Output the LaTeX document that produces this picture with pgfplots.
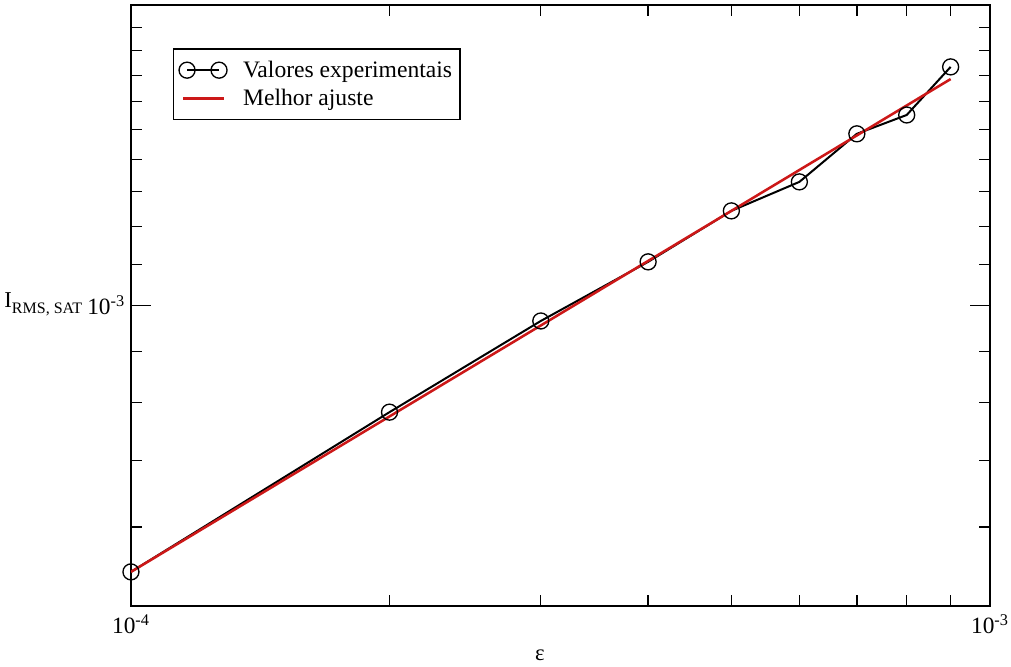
\documentclass[border=0pt]{standalone}
\usepackage{fontspec}
\setmainfont{Liberation Serif}
\usepackage{pgfplots}
\pgfplotsset{compat=1.18}
\definecolor{fitred}{RGB}{204,24,24}
\pgfplotsset{
  legmark/.style={legend image code/.code={\draw[mark repeat=1,##1] plot coordinates {(3pt,0pt) (27pt,0pt)};}},
  legline/.style={legend image code/.code={\draw[##1] (0pt,0pt) -- (31pt,0pt);}},
}
\begin{document}
\begin{tikzpicture}
\useasboundingbox (-98.25pt,-45.75pt) rectangle (660pt,454.5pt);
\begin{axis}[
  at={(0pt,0pt)}, anchor=south west,
  scale only axis, width=644.25pt, height=450.75pt,
  xmode=log, ymode=log,
  xmin=1e-4, xmax=1e-3, ymin=5e-4, ymax=2e-3,
  xtick={1e-4,1e-3}, xticklabels={10\textsuperscript{-4},10\textsuperscript{-3}},
  ytick={1e-3}, yticklabels={10\textsuperscript{-3}},
  minor xtick={2e-4,3e-4,4e-4,5e-4,6e-4,7e-4,8e-4,9e-4},
  minor ytick={6e-4,7e-4,8e-4,9e-4,1.1e-3,1.2e-3,1.3e-3,1.4e-3,1.5e-3,1.6e-3,1.7e-3,1.8e-3,1.9e-3},
  major tick length=15pt, minor tick length=8pt,
  tick style={black, line width=1pt},
  axis line style={line width=1.1pt},
  tick label style={font=\fontsize{17.5}{19}\selectfont},
  xticklabel style={yshift=-3pt},
  yticklabel style={xshift=-1pt},
  xlabel={ε},
  ylabel={I\raisebox{-0.6ex}{\fontsize{12}{13}\selectfont RMS, SAT}},
  every axis x label/.style={at={(axis description cs:0.476,0)}, anchor=center, yshift=-36.75pt, font=\fontsize{17}{20}\selectfont},
  every axis y label/.style={at={(axis description cs:0,0.4975)}, anchor=base east, xshift=-33pt, font=\fontsize{17}{20}\selectfont},
  legend style={at={(axis description cs:0.049,0.928)}, anchor=north west, draw=black, line width=1pt,
    font=\fontsize{17.7}{21}\selectfont, inner xsep=4pt, inner ysep=7pt, row sep=3.5pt,
    /tikz/every odd column/.append style={column sep=10pt}},
  legend cell align=left,
]
\addplot[black, line width=1.5pt, mark=o, mark size=6pt, mark options={line width=1pt, solid}, legmark]
  coordinates {
  (1e-4,5.41e-4) (2e-4,7.82e-4) (3e-4,9.65e-4) (4e-4,1.106e-3) (5e-4,1.244e-3)
  (6e-4,1.330e-3) (7e-4,1.486e-3) (8e-4,1.552e-3) (9e-4,1.734e-3)
  };
\addlegendentry{Valores experimentais}
\addplot[fitred, line width=1.9pt, no marks, legline]
  coordinates {(1e-4,5.41e-4) (9e-4,1.686e-3)};
\addlegendentry{Melhor ajuste}
\end{axis}
\end{tikzpicture}
\end{document}
